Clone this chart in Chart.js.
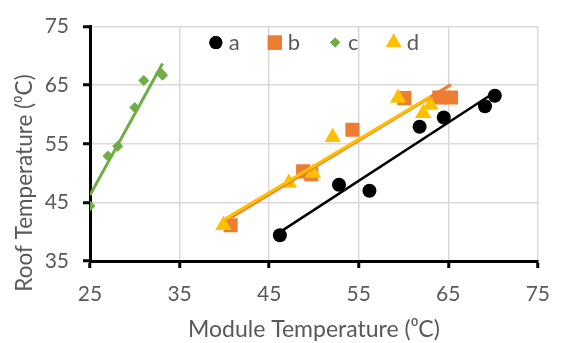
<!DOCTYPE html>
<html>
<head>
<meta charset="utf-8">
<script src="https://cdn.jsdelivr.net/npm/chart.js@4"></script>
<style>
  html, body { margin: 0; padding: 0; background: #fff; }
  #wrap { width: 564px; height: 343px; }
</style>
</head>
<body>
<div id="wrap"><canvas id="chart" width="564" height="343"></canvas></div>
<script>
// series (module temp, roof temp)
const seriesNames = ["a", "b", "c", "d"];
const aX = [46.2, 52.8, 56.2, 61.8, 64.5, 69.1, 70.2];
const aY = [39.4, 48.0, 47.0, 57.9, 59.5, 61.4, 63.2];
const bX = [40.7, 48.8, 49.7, 54.3, 60.1, 64.0, 65.3];
const bY = [41.1, 50.3, 49.8, 57.4, 62.8, 62.9, 62.9];
const cX = [25.0, 27.0, 28.1, 30.0, 31.0, 32.9, 33.1];
const cY = [44.4, 52.9, 54.6, 61.2, 65.8, 67.1, 66.7];
const dX = [39.9, 47.2, 49.9, 52.1, 59.4, 62.2, 63.0];
const dY = [41.1, 48.3, 50.0, 56.1, 62.8, 60.2, 61.6];

const xTicks = [25, 35, 45, 55, 65, 75];
const yTicks = [35, 45, 55, 65, 75];

const xTitle = "Module Temperature (\u2070C)";
const yTitle = "Roof Temperature (\u2070C)";

const colors = ["#000000", "#ED7D31", "#70AD47", "#FFC000"];
const styles = ["circle", "rect", "rectRot", "triangle"];
const radii = [7, 10, 5.5, 9.5];
const legendRadii = [6.5, 10, 5, 9];

const FONT = "Lato, 'Open Sans', sans-serif";
const TEXT = "#595959";

const pts = (xs, ys) => xs.map((x, i) => ({ x: x, y: ys[i] }));

// linear trendline over the data range, like the spreadsheet one
function trend(xs, ys) {
  const n = xs.length;
  const mx = xs.reduce((s, v) => s + v, 0) / n;
  const my = ys.reduce((s, v) => s + v, 0) / n;
  let sxy = 0, sxx = 0;
  xs.forEach((x, i) => { sxy += (x - mx) * (ys[i] - my); sxx += (x - mx) * (x - mx); });
  const k = sxy / sxx;
  const lo = Math.min(...xs), hi = Math.max(...xs);
  return [{ x: lo, y: my + k * (lo - mx) }, { x: hi, y: my + k * (hi - mx) }];
}

const allX = [aX, bX, cX, dX];
const allY = [aY, bY, cY, dY];

const pointSets = seriesNames.map((name, i) => ({
  label: name,
  data: pts(allX[i], allY[i]),
  showLine: false,
  pointStyle: styles[i],
  pointRadius: radii[i],
  pointHoverRadius: radii[i],
  backgroundColor: colors[i],
  borderColor: colors[i],
  borderWidth: 0,
  order: 8 - i
}));

const trendSets = seriesNames.map((name, i) => ({
  label: name + " trend",
  data: trend(allX[i], allY[i]),
  showLine: true,
  pointRadius: 0,
  borderColor: colors[i],
  borderWidth: i === 0 ? 2.5 : 3,
  order: 4 - i
}));

// legend drawn as one row inside the plot, near its top edge
const rowLegend = {
  id: "rowLegend",
  afterDraw(chart) {
    const ctx = chart.ctx;
    const area = chart.chartArea;
    ctx.save();
    ctx.font = "22px " + FONT;
    const box = 14, gap = 6, space = 28;
    const widths = seriesNames.map(n => box + gap + ctx.measureText(n).width);
    const total = widths.reduce((s, w) => s + w, 0) + space * (seriesNames.length - 1);
    let x = (area.left + area.right) / 2 - total / 2;
    const y = area.top + 16;
    seriesNames.forEach((name, i) => {
      ctx.fillStyle = colors[i];
      Chart.helpers.drawPoint(ctx, { pointStyle: styles[i], radius: legendRadii[i], borderWidth: 0 }, x + box / 2, y);
      ctx.fill();
      ctx.fillStyle = TEXT;
      ctx.textAlign = "left";
      ctx.textBaseline = "middle";
      ctx.fillText(name, x + box + gap, y);
      x += widths[i] + space;
    });
    ctx.restore();
  }
};

// y axis title sits lower than the plot centre in the reference
const yTitlePlugin = {
  id: "yTitle",
  afterDraw(chart) {
    const ctx = chart.ctx;
    ctx.save();
    ctx.translate(25, 183);
    ctx.rotate(-Math.PI / 2);
    ctx.font = "22.5px " + FONT;
    ctx.fillStyle = TEXT;
    ctx.textAlign = "center";
    ctx.textBaseline = "middle";
    ctx.fillText(yTitle, 0, 0);
    ctx.restore();
  }
};

new Chart(document.getElementById("chart"), {
  type: "scatter",
  data: { datasets: pointSets.concat(trendSets) },
  plugins: [rowLegend, yTitlePlugin],
  options: {
    responsive: false,
    animation: false,
    layout: { padding: { top: 21, right: 16, left: 0, bottom: 0 } },
    plugins: {
      tooltip: { enabled: false },
      legend: { display: false }
    },
    scales: {
      x: {
        type: "linear",
        min: 25,
        max: 75,
        afterBuildTicks: s => { s.ticks = xTicks.map(v => ({ value: v })); },
        afterFit: s => { s.height = 82; },
        ticks: { color: TEXT, font: { family: FONT, size: 21 }, padding: 14 },
        grid: { color: "#D9D9D9", lineWidth: 1.5, tickColor: "#000", tickLength: 7, tickWidth: 3 },
        border: { color: "#000", width: 3 },
        title: { display: true, text: xTitle, color: TEXT, font: { family: FONT, size: 23 }, padding: { bottom: 0 } }
      },
      y: {
        type: "linear",
        min: 35,
        max: 75,
        afterBuildTicks: s => { s.ticks = yTicks.map(v => ({ value: v })); },
        afterFit: s => { s.width = 90; },
        ticks: { color: TEXT, font: { family: FONT, size: 21 }, padding: 14 },
        grid: { color: "#D9D9D9", lineWidth: 1.5, tickColor: "#000", tickLength: 7, tickWidth: 3 },
        border: { color: "#000", width: 3 }
      }
    }
  }
});
</script>
</body>
</html>
